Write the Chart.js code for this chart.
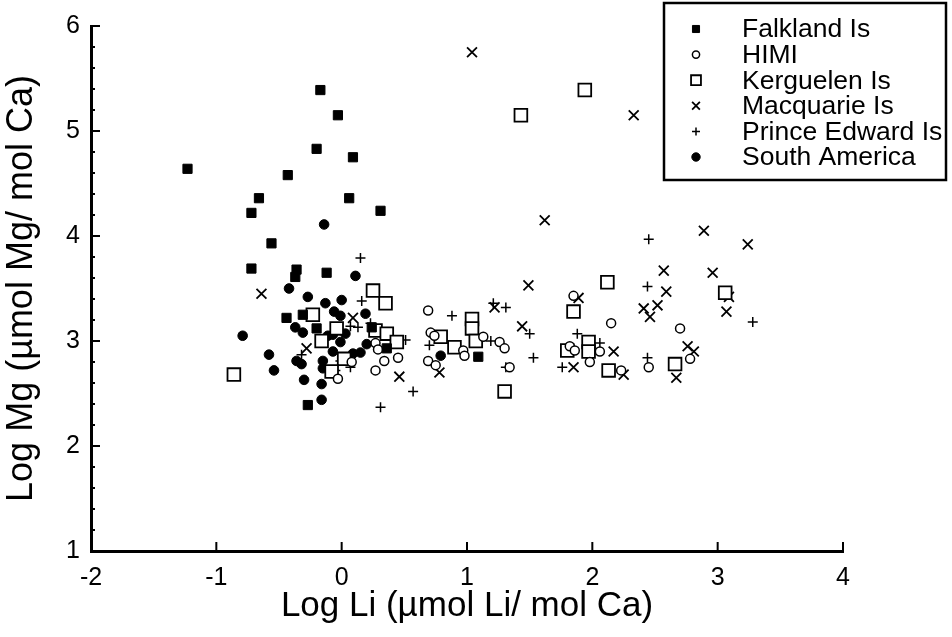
<!DOCTYPE html>
<html>
<head>
<meta charset="utf-8">
<script src="https://cdn.jsdelivr.net/npm/chart.js@4/dist/chart.umd.min.js"></script>
<style>
  html, body { margin: 0; padding: 0; background: #fff; }
  #wrap { width: 952px; height: 637px; }
</style>
</head>
<body>
<div id="wrap"><canvas id="liMg"></canvas></div>
<script>
// Log Li vs Log Mg, one series per region: [logLi, logMg]
var falkland = [[-1.23,4.64],[-0.17,5.39],[-0.03,5.15],[-0.20,4.83],[0.09,4.75],[-0.43,4.58],[-0.66,4.36],[0.06,4.36],[0.31,4.24],[-0.72,4.22],[-0.56,3.93],[-0.72,3.69],[-0.36,3.68],[-0.37,3.61],[-0.12,3.65],[-0.44,3.22],[-0.31,3.25],[-0.20,3.12],[0.24,3.13],[0.36,2.93],[1.09,2.85],[-0.27,2.39]];
var himi = [[0.69,3.29],[0.71,3.08],[0.74,3.05],[0.27,2.98],[0.29,2.92],[0.34,2.81],[0.45,2.84],[0.27,2.72],[0.08,2.80],[-0.03,2.64],[0.69,2.81],[0.75,2.77],[0.97,2.91],[0.98,2.86],[1.13,3.04],[1.26,2.99],[1.30,2.93],[1.34,2.75],[1.85,3.43],[2.15,3.17],[1.82,2.95],[1.86,2.91],[1.98,2.80],[2.06,2.90],[2.23,2.72],[2.70,3.12],[2.45,2.75],[2.78,2.83]];
var kerguelen = [[1.94,5.39],[1.43,5.15],[-0.86,2.68],[-0.23,3.25],[-0.04,3.12],[-0.16,3.00],[0.02,2.83],[-0.08,2.71],[0.25,3.48],[0.35,3.36],[0.27,3.10],[0.36,3.07],[0.44,2.99],[0.79,3.04],[0.90,2.94],[1.04,3.21],[1.04,3.12],[1.07,3.00],[1.30,2.52],[2.12,3.56],[1.85,3.28],[1.80,2.91],[1.97,2.99],[1.97,2.90],[2.13,2.72],[3.06,3.46],[2.66,2.78]];
var macquarie = [[1.04,5.75],[2.33,5.15],[1.62,4.15],[2.89,4.05],[3.24,3.92],[2.57,3.67],[2.96,3.65],[2.59,3.47],[2.41,3.31],[2.46,3.23],[2.52,3.34],[3.07,3.28],[3.09,3.42],[2.76,2.95],[2.81,2.90],[2.67,2.65],[2.25,2.68],[1.49,3.53],[1.22,3.32],[1.44,3.14],[1.89,3.41],[2.17,2.90],[1.85,2.75],[-0.64,3.45],[0.09,3.22],[-0.28,2.93],[0.46,2.66],[0.78,2.70]];
var princeEdward = [[2.45,3.97],[2.44,3.52],[3.28,3.18],[2.44,2.84],[0.88,3.24],[1.21,3.36],[1.31,3.32],[1.50,3.07],[1.19,3.00],[1.53,2.84],[1.31,2.75],[1.88,3.07],[2.06,2.98],[1.76,2.75],[0.57,2.52],[0.31,2.37],[0.51,3.01],[0.16,3.38],[0.07,3.14],[0.13,3.13],[0.23,3.17],[-0.01,2.81],[0.70,2.96],[0.07,2.75],[-0.32,2.87],[-0.05,2.72],[0.15,3.79]];
var southAmerica = [[-0.14,4.11],[0.11,3.62],[-0.42,3.50],[-0.27,3.42],[-0.13,3.36],[0.00,3.39],[-0.06,3.28],[-0.01,3.24],[-0.37,3.13],[-0.31,3.08],[-0.79,3.05],[-0.07,3.06],[-0.01,2.99],[-0.58,2.87],[-0.36,2.81],[-0.32,2.78],[-0.15,2.81],[-0.54,2.72],[-0.30,2.63],[-0.16,2.59],[-0.16,2.44],[0.19,3.26],[-0.11,3.05],[0.03,3.07],[-0.07,2.90],[0.20,2.97],[0.09,2.88],[0.15,2.89],[-0.15,2.74],[0.79,2.86]];

var seriesNames = ['Falkland Is', 'HIMI', 'Kerguelen Is', 'Macquarie Is', 'Prince Edward Is', 'South America'];
var xTicks = [-2, -1, 0, 1, 2, 3, 4];
var yTicks = [1, 2, 3, 4, 5, 6];

var FONT = '"Liberation Sans", Arial, Helvetica, sans-serif';

function pts(arr) {
    return arr.map(function (p) { return { x: p[0], y: p[1] }; });
}

// marker look per series: style, radius, fill, line width, legend radius
var markers = [
    { style: 'rect',     r: 6.5, fill: '#000', bw: 1,   lr: 5 },
    { style: 'circle',   r: 4.5, fill: '#fff', bw: 1.5, lr: 3.6 },
    { style: 'rect',     r: 9,   fill: '#fff', bw: 1.8, lr: 7 },
    { style: 'crossRot', r: 7,   fill: '#fff', bw: 1.8, lr: 5.5 },
    { style: 'cross',    r: 5,   fill: '#fff', bw: 1.5, lr: 4 },
    { style: 'circle',   r: 4.8, fill: '#000', bw: 1,   lr: 4.2 }
];

var allData = [falkland, himi, kerguelen, macquarie, princeEdward, southAmerica];
var datasets = allData.map(function (d, i) {
    var m = markers[i];
    return {
        label: seriesNames[i],
        data: pts(d),
        pointStyle: m.style,
        pointRadius: m.r,
        pointBackgroundColor: m.fill,
        pointBorderColor: '#000',
        pointBorderWidth: m.bw,
        showLine: false
    };
});

// inward ticks: majors on both axes, minors every 0.2 on y
var axisTicks = {
    id: 'axisTicks',
    afterDraw: function (chart) {
        var ctx = chart.ctx, a = chart.chartArea;
        var xs = chart.scales.x, ys = chart.scales.y;
        ctx.save();
        ctx.strokeStyle = '#000';
        ctx.lineWidth = 2;
        ctx.beginPath();
        xTicks.forEach(function (v) {
            var px = xs.getPixelForValue(v);
            ctx.moveTo(px, a.bottom);
            ctx.lineTo(px, a.bottom - 9);
        });
        for (var k = 0; k <= 25; k++) {
            var v = 1 + k * 0.2;
            var py = ys.getPixelForValue(v);
            var major = k % 5 === 0;
            ctx.moveTo(a.left, py);
            ctx.lineTo(a.left + (major ? 9 : 4), py);
        }
        ctx.stroke();
        ctx.restore();
    }
};

// boxed legend in the top right corner
var boxLegend = {
    id: 'boxLegend',
    afterDraw: function (chart) {
        var ctx = chart.ctx;
        var bx = 664, by = 3, bw = 282, bh = 177;
        ctx.save();
        ctx.fillStyle = '#fff';
        ctx.fillRect(bx, by, bw, bh);
        ctx.strokeStyle = '#000';
        ctx.lineWidth = 2.5;
        ctx.strokeRect(bx, by, bw, bh);
        ctx.font = '26.5px ' + FONT;
        ctx.textBaseline = 'middle';
        ctx.textAlign = 'left';
        chart.data.datasets.forEach(function (ds, i) {
            var m = markers[i];
            var cy = 29 + i * 25.6;
            ctx.fillStyle = m.fill;
            ctx.strokeStyle = '#000';
            ctx.lineWidth = m.bw;
            Chart.helpers.drawPoint(ctx, { pointStyle: m.style, radius: m.lr, borderWidth: m.bw }, 696, cy);
            ctx.fillStyle = '#000';
            ctx.fillText(ds.label, 742, cy + 1);
        });
        ctx.restore();
    }
};

var ctx = document.getElementById('liMg').getContext('2d');
var chart = new Chart(ctx, {
    type: 'scatter',
    data: { datasets: datasets },
    plugins: [axisTicks, boxLegend],
    options: {
        responsive: true,
        maintainAspectRatio: false,
        animation: false,
        layout: { padding: { top: 16, right: 109, left: 0, bottom: 0 } },
        plugins: {
            legend: { display: false },
            tooltip: { enabled: false }
        },
        scales: {
            x: {
                type: 'linear',
                min: -2,
                max: 4,
                afterBuildTicks: function (s) { s.ticks = xTicks.map(function (v) { return { value: v }; }); },
                afterFit: function (s) { s.height = 86; },
                grid: { display: false, drawTicks: false },
                border: { display: true, color: '#000', width: 3 },
                ticks: { color: '#000', padding: 12, font: { family: FONT, size: 25 } },
                title: {
                    display: true,
                    text: 'Log Li (µmol Li/ mol Ca)',
                    color: '#000',
                    font: { family: FONT, size: 35 },
                    padding: { top: 0, bottom: 10 }
                }
            },
            y: {
                type: 'linear',
                min: 1,
                max: 6,
                afterBuildTicks: function (s) { s.ticks = yTicks.map(function (v) { return { value: v }; }); },
                afterFit: function (s) { s.width = 91; },
                grid: { display: false, drawTicks: false },
                border: { display: true, color: '#000', width: 3 },
                ticks: { color: '#000', padding: 11, font: { family: FONT, size: 25 } },
                title: {
                    display: true,
                    text: 'Log Mg (µmol Mg/ mol Ca)',
                    color: '#000',
                    font: { family: FONT, size: 36 },
                    padding: { top: 0, bottom: 0 }
                }
            }
        }
    }
});
</script>
</body>
</html>
